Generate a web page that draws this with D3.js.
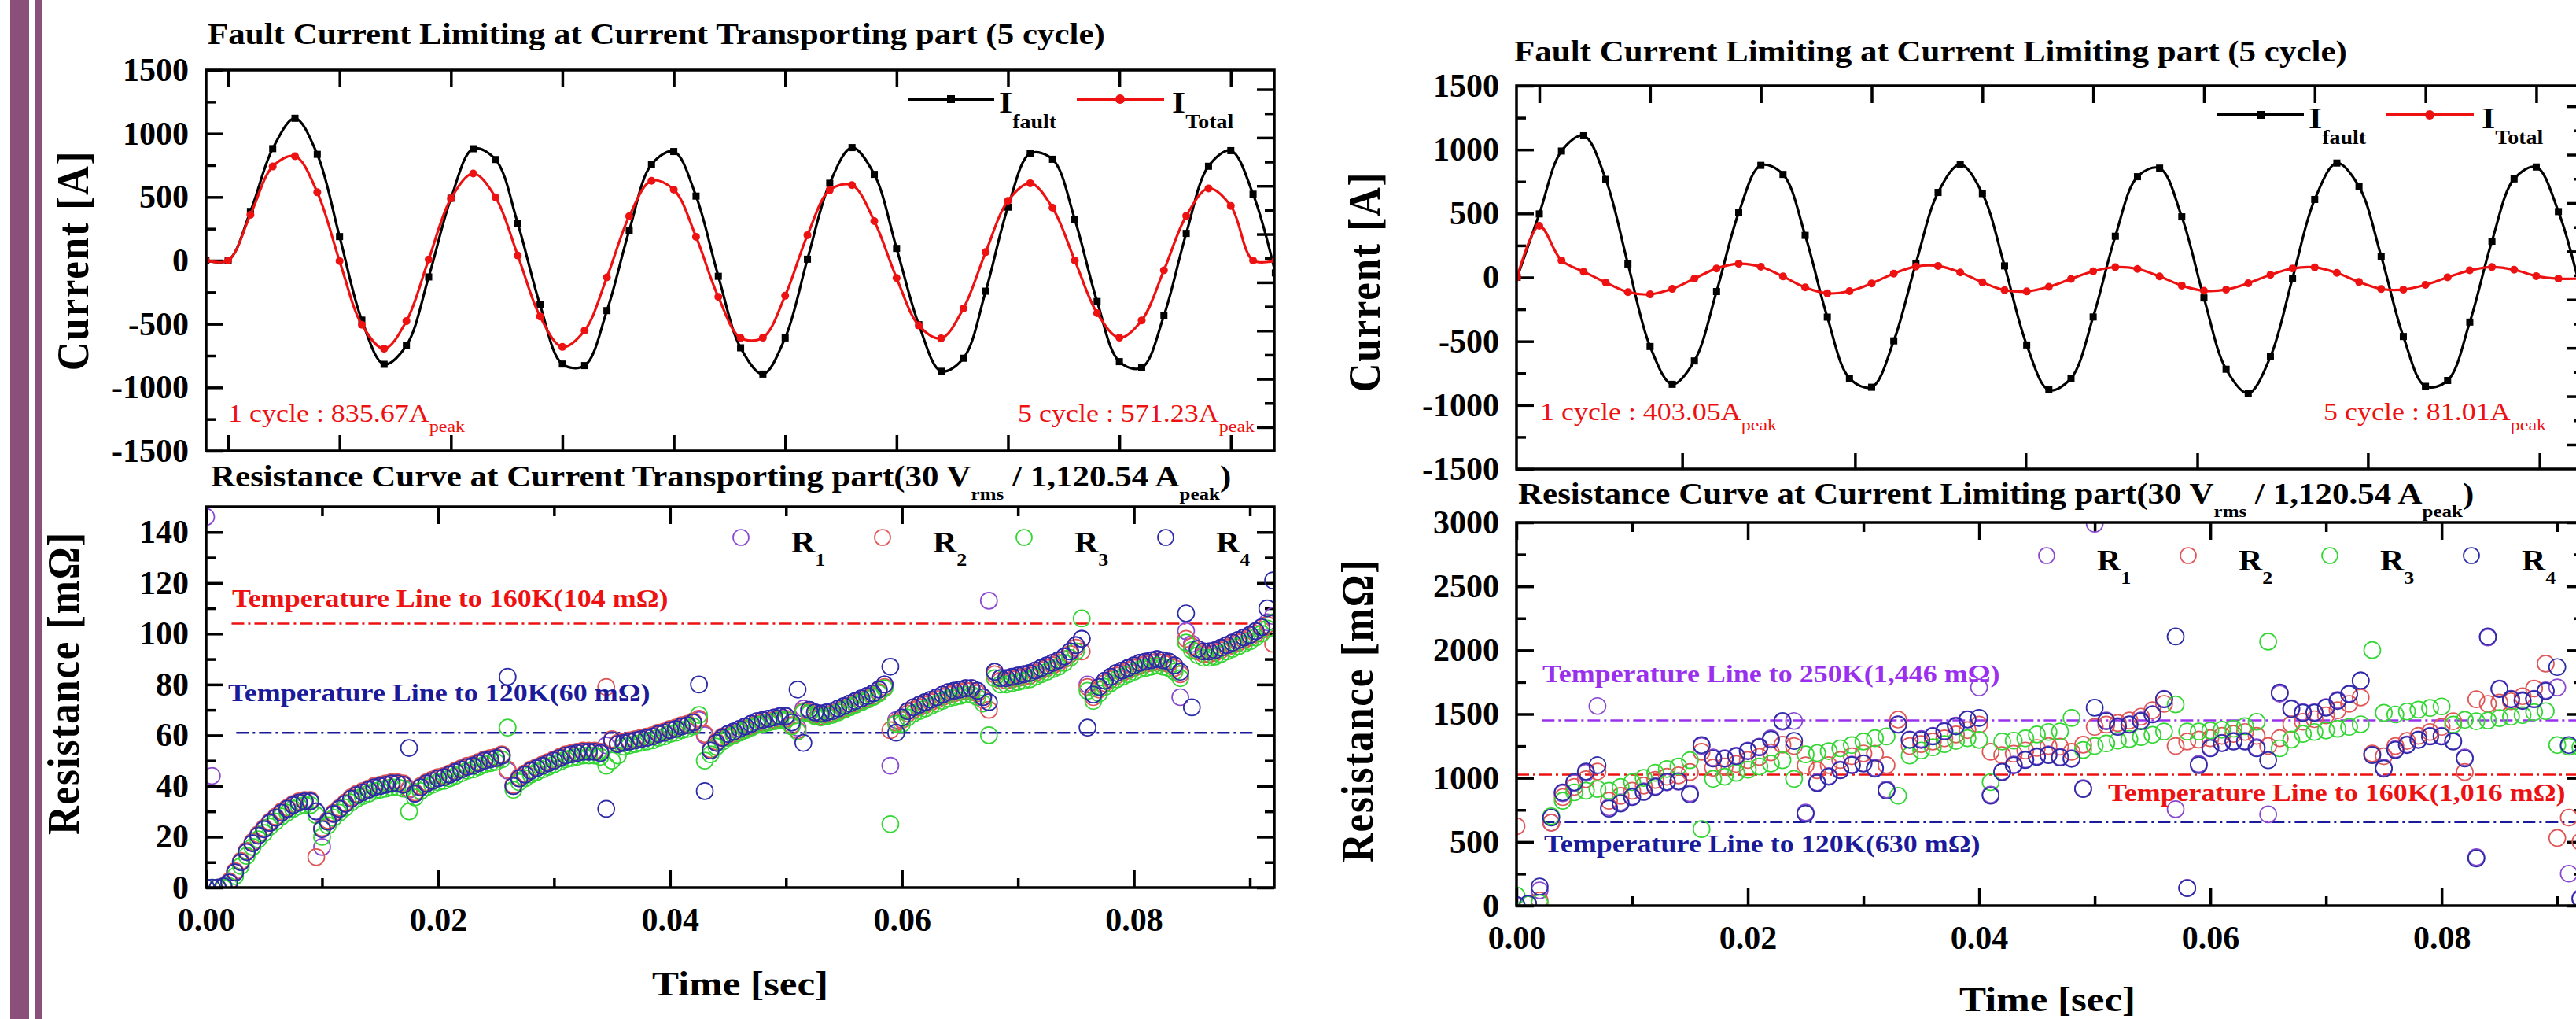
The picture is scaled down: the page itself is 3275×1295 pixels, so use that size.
<!DOCTYPE html>
<html>
<head>
<meta charset="utf-8">
<script src="https://cdn.jsdelivr.net/npm/d3@7/dist/d3.min.js"></script>
<style>
  html, body { margin: 0; padding: 0; background: #ffffff; overflow: hidden; }
  svg { display: block; }
</style>
</head>
<body>
<svg id="chart" width="3275" height="1295" xmlns="http://www.w3.org/2000/svg"></svg>
<script>
// ================= DATA =================
// Current waveforms (time in s), markers every 2 ms
const currentTimes = [-0.002,0,0.002,0.004,0.006,0.008,0.010,0.012,0.014,0.016,0.018,0.020,0.022,0.024,0.026,0.028,0.030,0.032,0.034,0.036,0.038,0.040,0.042,0.044,0.046,0.048,0.050,0.052,0.054,0.056,0.058,0.060,0.062,0.064,0.066,0.068,0.070,0.072,0.074,0.076,0.078,0.080,0.082,0.084,0.086,0.088,0.090,0.092,0.094];
const leftFaultCurrent = [0,0,386,881,1120,836,188,-470,-818,-670,-130,490,880,795,290,-350,-816,-828,-395,235,756,858,507,-125,-688,-895,-610,10,608,889,678,95,-506,-873,-770,-242,420,843,797,323,-323,-797,-845,-434,213,742,865,522,-98];
const leftTotalCurrent = [0,0,360,740,821,537,-4,-506,-695,-478,8,488,685,498,39,-441,-681,-552,-133,348,628,558,186,-287,-610,-608,-278,199,554,593,310,-138,-512,-613,-378,66,470,608,415,0,-415,-608,-472,-77,351,567,430,0,0];
const rightFaultCurrent = [0,497,989,1109,767,105,-541,-837,-654,-111,506,877,806,329,-311,-789,-860,-497,111,665,885,656,90,-529,-881,-790,-310,322,788,855,474,-161,-719,-907,-622,-6,610,895,711,166,-463,-853,-807,-350,283,771,864,515,-97];
const rightTotalCurrent = [0,403,133,45,-40,-115,-133,-90,-10,70,107,83,7,-79,-125,-108,-47,30,85,90,39,-39,-100,-110,-74,-12,48,80,66,7,-64,-105,-96,-46,20,70,79,35,-36,-91,-96,-59,0,55,81,60,10,-10,-10];

// Resistance of current transporting part (mOhm), sampled every 0.5 ms from t = 0
const resLeftStep = 0.0005;
const resLeftR1 = [146,44,0,0.5,2,6,10,14,17.5,20.5,23,25.5,27.5,29.5,31,32.5,33.5,34,34,30,16,26,29,31,33,35,36.5,37.5,38.5,39.5,40,40.5,41,41,40.5,38.5,37,39.5,41,42,43,43.5,44.5,45.5,46.5,47.5,48,49,50,50.5,51,52,46,40,43,44.5,46,47,48,49,50,51,52,52.5,53,53.5,53.5,53.5,53,56,58,56.5,57,57.5,58,58.5,59,59.5,60.5,61,62,62.5,63.5,64,65,66,60,54,57,59,60.5,61.5,62.5,63.5,64.5,65.5,66,66.5,67,67.5,67.5,65,63,70.5,70,69,68.5,69,69.5,70.5,71.5,72.5,73.5,74.5,75.5,76.5,78,80,48,66,67,69.5,71,72,73,74,75,76,77,77.5,78,78.5,78.5,77.5,75,113,85,82.5,82.5,83,83.5,84,84.5,85.5,86.5,87.5,88.5,89.5,91,93,95.5,98,80,76,79,81.5,83,84.5,85.5,86.5,87.5,88.5,89,89.5,90,89.5,89,87.5,75,101,96,94,93,93,93.5,94.5,95.5,96.5,97.5,98.5,99.5,101,102.5,104.5,107];
const resLeftR2 = [0,0,0,0,2.5,6.5,10.5,14.5,18,21,23.5,26,28,30,31.5,33,34,34.5,34.5,12,23.5,26.5,29.5,31.5,33.5,35.5,37,38,39,40,40.5,41,41.5,41.5,41,39,37.5,40,41.5,42.5,43.5,44,45,46,47,48,48.5,49.5,50.5,51,51.5,52.5,46.5,40.5,43.5,45,46.5,47.5,48.5,49.5,50.5,51.5,52.5,53,53.5,54,54,54,53.5,79,58.5,57,57.5,58,58.5,59,59.5,60,61,61.5,62.5,63,64,64.5,65.5,66.5,60.5,54.5,57.5,59.5,59.5,60.5,61.5,62.5,63.5,64.5,65,65.5,66,66.5,66.5,64,62,69.5,69,68,67.5,68,68.5,69.5,70.5,71.5,72.5,73.5,74.5,75.5,77,79,62,65,66,68.5,70,71,72,73,74,75,76,76.5,77,77.5,77.5,76.5,74,70,84,81.5,81.5,82,82.5,83,83.5,84.5,85.5,86.5,87.5,88.5,90,92,94.5,93,79,75,78,80.5,82,83.5,84.5,85.5,86.5,87.5,88,88.5,89,88.5,88,86.5,84,98,95,93,92,92,92.5,93.5,94.5,95.5,96.5,97.5,98.5,100,101.5,103.5,96];
const resLeftR3 = [0,0,0,0,0.5,4.5,8.5,12.5,16,19,21.5,24,26,28,29.5,31,32,32.5,32.5,28.5,20,24.5,27.5,29.5,31.5,33.5,35,36,37,38,38.5,39,39.5,39.5,39,30,35.5,38,39.5,40.5,41.5,42,43,44,45,46,46.5,47.5,48.5,49,49.5,50.5,63,38.5,41.5,43,44.5,45.5,46.5,47.5,48.5,49.5,50.5,51,51.5,52,52,52,51.5,48,50,52,55.5,56,56.5,57,57.5,58,59,59.5,60.5,61,62,62.5,63.5,68,50,52.5,55.5,57.5,59,60,61,62,63,64,64.5,65,65.5,66,66,63.5,61.5,69,68.5,67.5,67,67.5,68,69,70,71,72,73,74,75,76.5,78.5,25,64.5,64.5,67,68.5,69.5,70.5,71.5,72.5,73.5,74.5,75,75.5,76,76,75,72.5,60,82.5,80,80,80.5,81,81.5,82,83,84,85,86,87,88.5,90.5,93,106,77.5,73.5,76.5,79,80.5,82,83,84,85,86,86.5,87,87.5,87,86.5,85,82.5,96.5,93.5,91.5,90.5,90.5,91,92,93,94,95,96,97,98.5,100,102,104.5];
const resLeftR4 = [0,0,0,0.5,2,6,10,14,17.5,20.5,23,25.5,27.5,29.5,31,32.5,33.5,34,34,30,23,26,29,31,33,35,36.5,37.5,38.5,39.5,40,40.5,41,41,40.5,55,37,39.5,41,42,43,43.5,44.5,45.5,46.5,47.5,48,49,50,50.5,51,52,83,40,43,44.5,46,47,48,49,50,51,52,52.5,53,53.5,53.5,53.5,53,31,58,56.5,57,57.5,58,58.5,59,59.5,60.5,61,62,62.5,63.5,64,65,80,38,54,57,59,60.5,61.5,62.5,63.5,64.5,65.5,66,66.5,67,67.5,67.5,65,78,57,70,69,68.5,69,69.5,70.5,71.5,72.5,73.5,74.5,75.5,76.5,78,80,87,61,67,69.5,71,72,73,74,75,76,77,77.5,78,78.5,78.5,77.5,75,73,85,82.5,82.5,83,83.5,84,84.5,85.5,86.5,87.5,88.5,89.5,91,93,95.5,98,63,76,79,81.5,83,84.5,85.5,86.5,87.5,88.5,89,89.5,90,89.5,89,87.5,85,108,71,94,93,93,93.5,94.5,95.5,96.5,97.5,98.5,99.5,101,102.5,110,121];

// Resistance of current limiting part (mOhm), sampled every 1 ms from t = 0
const resRightStep = 0.001;
const resRightR1 = [0,10,120,650,880,960,1040,1563,770,810,855,895,935,965,970,880,1250,1160,1155,1175,1215,1245,1310,1440,1446,730,965,1015,1065,1105,1115,1080,910,1420,1300,1305,1330,1370,1410,1460,1709,870,1050,1105,1145,1170,1185,1165,1155,920,2990,1450,1405,1420,1450,1500,1620,755,140,1110,1240,1275,1290,1290,1240,715,1660,1545,1515,1515,1555,1610,1660,1762,1185,1080,1225,1262,1300,1330,1330,1290,1160,380,2100,1700,1620,1608,1620,1685,1709,251,60];
const resRightR2 = [622,10,40,650,850,930,990,1050,821,860,900,940,985,1010,1020,1046,1205,1080,1090,1110,1140,1165,1200,1260,1250,1099,1060,1100,1140,1170,1192,1190,1100,1457,1250,1265,1285,1310,1340,1375,1417,1205,1179,1190,1215,1235,1250,1245,1205,1260,1400,1417,1430,1450,1480,1530,1580,1250,1285,1300,1311,1330,1345,1360,1330,1250,1311,1420,1440,1460,1490,1530,1580,1630,1192,1170,1250,1290,1330,1360,1400,1444,1046,1616,1580,1590,1600,1640,1700,1895,530,690,500];
const resRightR3 = [80,10,20,700,821,887,900,914,900,930,967,1000,1040,1070,1090,1139,600,993,1010,1040,1065,1090,1112,1139,993,1185,1195,1210,1232,1258,1285,1311,1325,861,1175,1215,1240,1265,1290,1311,1298,967,1285,1292,1310,1340,1360,1364,1470,1219,1250,1270,1292,1305,1320,1338,1364,1576,1364,1364,1372,1378,1386,1405,1440,2067,1232,1300,1345,1360,1372,1385,1400,1420,2001,1510,1497,1520,1535,1548,1560,1417,1455,1444,1450,1468,1480,1492,1515,1523,1258,1245,1240];
const resRightR4 = [5,15,150,690,887,967,1050,1100,760,800,850,890,930,970,975,870,1258,1152,1150,1170,1210,1240,1300,1446,1290,720,960,1010,1060,1100,1112,1073,901,1417,1298,1298,1325,1364,1404,1457,1470,861,1046,1099,1140,1165,1179,1160,1150,914,1550,1444,1400,1417,1444,1497,1616,2107,137,1100,1232,1272,1285,1285,1232,1139,1669,1540,1510,1510,1550,1603,1656,1762,1179,1073,1219,1258,1298,1325,1325,1285,1152,370,2107,1696,1616,1603,1616,1680,1868,1258,52];

// Ticks
const currentMajorTicks = [-1500,-1000,-500,0,500,1000,1500];
const currentMinorTicks = [-1250,-750,-250,250,750,1250];
const currentTimeTicks = [0,0.01,0.02,0.03,0.04,0.05,0.06,0.07,0.08,0.09];
const rightCurrentBottomTicks = [0.0129,0.0285,0.0439,0.0594,0.0748,0.0903];
const auxMajorTicks = [0,2,4,6,8,10,12,14];
const auxMinorTicks = [1,3,5,7,9,11,13];
const resLeftMajorTicks = [0,20,40,60,80,100,120,140];
const resLeftMinorTicks = [10,30,50,70,90,110,130];
const resRightMajorTicks = [0,500,1000,1500,2000,2500,3000];
const resRightMinorTicks = [250,750,1250,1750,2250,2750];
const timeMajorTicks = [0,0.02,0.04,0.06,0.08];
const timeMinorTicks = [0.01,0.03,0.05,0.07,0.09];

// Temperature reference lines
const leftTempValues = [104, 61];
const leftTempLabels = ["Temperature Line to 160K(104 m\u03A9)", "Temperature Line to 120K(60 m\u03A9)"];
const rightTempValues = [1450, 1025, 655];
const rightTempLabels = ["Temperature Line to 250K(1,446 m\u03A9)", "Temperature Line to 160K(1,016 m\u03A9)", "Temperature Line to 120K(630 m\u03A9)"];

const seriesNames = ["1","2","3","4"];

// ================= DRAWING =================
const FONT = "'Liberation Serif','Times New Roman',Times,serif";
const SY = 0.88;
const svg = d3.select("#chart");
svg.append("rect").attr("width",3275).attr("height",1295).attr("fill","#ffffff");
svg.append("rect").attr("x",13).attr("y",0).attr("width",24).attr("height",1295).attr("fill","#8b5079");
svg.append("rect").attr("x",45).attr("y",0).attr("width",8).attr("height",1295).attr("fill","#8b5079");
const defs = svg.append("defs");

function addText(parent, x, y, content, o) {
  const t = parent.append("text")
    .attr("transform", `translate(${x},${y}) scale(1,${SY})` + (o.rotate ? ` rotate(${o.rotate})` : ""))
    .attr("text-anchor", o.anchor || "start")
    .attr("fill", o.color || "#000")
    .style("font-family", FONT)
    .style("font-size", o.size + "px")
    .style("font-weight", o.weight || "bold");
  if (o.spacing) t.style("letter-spacing", o.spacing + "px");
  if (typeof content === "string") { t.text(content); }
  else {
    let cur = 0;
    content.forEach(p => {
      const ts = t.append("tspan").text(p.t);
      const off = p.sub || 0;
      if (off !== cur) { ts.attr("dy", (off - cur) / SY); cur = off; }
      if (p.size) ts.style("font-size", p.size + "px");
      if (p.dx) ts.attr("dx", p.dx);
    });
  }
  return t;
}

function axisG(parent, gen, tx, ty) {
  const a = parent.append("g").attr("transform", `translate(${tx},${ty})`).call(gen);
  a.select(".domain").remove();
  a.selectAll(".tick line").attr("stroke", "#000").attr("stroke-width", 3.5);
  a.selectAll(".tick text").attr("fill", "#000")
    .style("font-family", FONT).style("font-size", "42px").style("font-weight", "bold");
  return a;
}

function frame(g, x, y) {
  const [x0, x1] = x.range(); const [y1, y0] = y.range();
  g.append("rect").attr("x", x0).attr("y", y0).attr("width", x1 - x0).attr("height", y1 - y0)
    .attr("fill", "none").attr("stroke", "#000").attr("stroke-width", 3.5);
}

function clipFor(id, x, y) {
  const [x0, x1] = x.range(); const [y1, y0] = y.range();
  defs.append("clipPath").attr("id", id).append("rect")
    .attr("x", x0).attr("y", y0).attr("width", x1 - x0).attr("height", y1 - y0);
  return `url(#${id})`;
}

function drawCurrentChart(p) {
  const g = svg.append("g");
  const [x0, x1] = p.x.range(); const [y1, y0] = p.y.range();
  const clip = clipFor(p.id, p.x, p.y);
  axisG(g, d3.axisLeft(p.y).tickValues(currentMajorTicks).tickSize(-22).tickPadding(22).tickFormat(d => String(d)), x0, 0);
  axisG(g, d3.axisLeft(p.y).tickValues(currentMinorTicks).tickSize(-12).tickFormat(""), x0, 0);
  axisG(g, d3.axisRight(p.aux).tickValues(auxMajorTicks).tickSize(-22).tickFormat(""), x1, 0);
  axisG(g, d3.axisRight(p.aux).tickValues(auxMinorTicks).tickSize(-12).tickFormat(""), x1, 0);
  axisG(g, d3.axisTop(p.x).tickValues(currentTimeTicks).tickSize(-22).tickFormat(""), 0, y0);
  axisG(g, d3.axisBottom(p.x).tickValues(p.bottomTicks).tickSize(-20).tickFormat(""), 0, y1);

  const dg = g.append("g").attr("clip-path", clip);
  const line = d3.line().x((d, i) => p.x(currentTimes[i])).y(d => p.y(d)).curve(d3.curveCatmullRom.alpha(0.5));
  dg.append("path").datum(p.fault).attr("d", line).attr("fill", "none").attr("stroke", "#000").attr("stroke-width", 3.2);
  dg.selectAll(null).data(p.fault).join("rect")
    .attr("x", (d, i) => p.x(currentTimes[i]) - 4.5).attr("y", d => p.y(d) - 4.5)
    .attr("width", 9).attr("height", 9).attr("fill", "#000");
  dg.append("path").datum(p.total).attr("d", line).attr("fill", "none").attr("stroke", "#ee1111").attr("stroke-width", 3.2);
  dg.selectAll(null).data(p.total).join("circle")
    .attr("cx", (d, i) => p.x(currentTimes[i])).attr("cy", d => p.y(d)).attr("r", 5).attr("fill", "#ee1111");
  frame(g, p.x, p.y);

  // legend
  const lx = x1 - 466, ly = y0 + 37;
  g.append("line").attr("x1", lx).attr("x2", lx + 110).attr("y1", ly).attr("y2", ly).attr("stroke", "#000").attr("stroke-width", 4);
  g.append("rect").attr("x", lx + 55 - 5).attr("y", ly - 5).attr("width", 10).attr("height", 10).attr("fill", "#000");
  addText(g, lx + 116, ly + 17, [{t: "I"}, {t: "fault", sub: 20, size: 28}], {size: 44});
  const rx = lx + 215;
  g.append("line").attr("x1", rx).attr("x2", rx + 111).attr("y1", ly).attr("y2", ly).attr("stroke", "#ee1111").attr("stroke-width", 4);
  g.append("circle").attr("cx", rx + 55).attr("cy", ly).attr("r", 6).attr("fill", "#ee1111");
  addText(g, rx + 121, ly + 17, [{t: "I"}, {t: "Total", sub: 20, size: 28}], {size: 44});

  // peak annotations
  addText(g, p.ann1[0], p.ann1[1], [{t: p.ann1[2]}, {t: "peak", sub: 13, size: 24}], {size: 36, weight: "normal", color: "#ee1111"});
  addText(g, p.ann2[0], p.ann2[1], [{t: p.ann2[2]}, {t: "peak", sub: 13, size: 24}], {size: 36, weight: "normal", color: "#ee1111"});
}

const seriesColors = ["#8a48d0", "#e05555", "#33d633", "#2b2ba8"];

function drawResChart(p) {
  const g = svg.append("g");
  const [x0, x1] = p.x.range(); const [y1, y0] = p.y.range();
  const clip = clipFor(p.id, p.x, p.y);
  axisG(g, d3.axisLeft(p.y).tickValues(p.major).tickSize(-22).tickPadding(22).tickFormat(d => String(d)), x0, 0);
  axisG(g, d3.axisLeft(p.y).tickValues(p.minor).tickSize(-12).tickFormat(""), x0, 0);
  axisG(g, d3.axisRight(p.y).tickValues(p.major).tickSize(-22).tickFormat(""), x1, 0);
  axisG(g, d3.axisRight(p.y).tickValues(p.minor).tickSize(-12).tickFormat(""), x1, 0);
  axisG(g, d3.axisTop(p.x).tickValues(timeMajorTicks).tickSize(-22).tickFormat(""), 0, y0);
  axisG(g, d3.axisTop(p.x).tickValues(timeMinorTicks).tickSize(-12).tickFormat(""), 0, y0);
  axisG(g, d3.axisBottom(p.x).tickValues(timeMajorTicks).tickSize(-22).tickPadding(25).tickFormat(d3.format(".2f")), 0, y1);
  axisG(g, d3.axisBottom(p.x).tickValues(timeMinorTicks).tickSize(-12).tickFormat(""), 0, y1);

  // temperature lines
  const tg = g.append("g").attr("clip-path", clip);
  p.temps.forEach(tl => {
    tg.append("line").attr("x1", p.x(tl.t0)).attr("x2", p.x(tl.t1)).attr("y1", p.y(tl.v)).attr("y2", p.y(tl.v))
      .attr("stroke", tl.color).attr("stroke-width", 2.5).attr("stroke-dasharray", "16,5,3,5");
  });

  const dg = g.append("g").attr("clip-path", clip);
  p.series.forEach((arr, si) => {
    dg.selectAll(null).data(arr).join("circle")
      .attr("cx", (d, i) => p.x(i * p.step)).attr("cy", d => p.y(d)).attr("r", 10.5)
      .attr("fill", "none").attr("stroke", seriesColors[si]).attr("stroke-width", 1.7);
  });
  frame(g, p.x, p.y);

  p.temps.forEach(tl => {
    addText(g, tl.lx, tl.ly, tl.label, {size: 36, color: tl.color});
  });

  // legend
  seriesNames.forEach((nm, k) => {
    const cx = p.legX + k * 180;
    g.append("circle").attr("cx", cx).attr("cy", p.legY).attr("r", 10).attr("fill", "none")
      .attr("stroke", seriesColors[k]).attr("stroke-width", 1.7);
    addText(g, cx + 64, p.legY + 19, [{t: "R"}, {t: nm, sub: 17, size: 26}], {size: 42});
  });
}

// ---------- Scales ----------
const xTL = d3.scaleLinear().domain([-0.00198, 0.0939]).range([262, 1620]);
const yTL = d3.scaleLinear().domain([-1500, 1500]).range([573, 89]);
const auxTL = d3.scaleLinear().domain([-0.98, 14.8]).range([573, 89]);
const xTR = d3.scaleLinear().domain([-0.00206, 0.0943]).range([1928, 3285]);
const yTR = d3.scaleLinear().domain([-1500, 1500]).range([596, 109]);
const auxTR = d3.scaleLinear().domain([-1.01, 14.85]).range([596, 109]);
const xBL = d3.scaleLinear().domain([0, 0.0921]).range([262, 1620]);
const yBL = d3.scaleLinear().domain([0, 150]).range([1128, 644]);
const xBR = d3.scaleLinear().domain([0, 0.0923]).range([1928, 3285]);
const yBR = d3.scaleLinear().domain([0, 3000]).range([1151, 664]);

// ---------- Left panel ----------
const gL = svg.append("g");
addText(gL, 264, 56, "Fault Current Limiting at Current Transporting part (5 cycle)", {size: 43});
drawCurrentChart({id: "clipTL", x: xTL, y: yTL, aux: auxTL, bottomTicks: currentTimeTicks,
  fault: leftFaultCurrent, total: leftTotalCurrent,
  ann1: [290, 536, "1 cycle : 835.67A"], ann2: [1294, 536, "5 cycle : 571.23A"]});
addText(gL, 268, 618, [{t: "Resistance Curve at Current Transporting part(30 V"}, {t: "rms", sub: 17, size: 25},
  {t: " / 1,120.54 A"}, {t: "peak", sub: 17, size: 25}, {t: ")"}], {size: 43});
drawResChart({id: "clipBL", x: xBL, y: yBL, major: resLeftMajorTicks, minor: resLeftMinorTicks,
  step: resLeftStep, series: [resLeftR1, resLeftR2, resLeftR3, resLeftR4],
  legX: 942, legY: 683,
  temps: [
    {v: leftTempValues[0], t0: 0.0022, t1: 0.0900, color: "#ee1111", label: leftTempLabels[0], lx: 295, ly: 771},
    {v: leftTempValues[1], t0: 0.0026, t1: 0.0903, color: "#1a1a9a", label: leftTempLabels[1], lx: 290, ly: 891}
  ]});
addText(gL, 112, 331, "Current [A]", {size: 58, rotate: -90, anchor: "middle", spacing: 2});
addText(gL, 100, 868, "Resistance [m\u03A9]", {size: 58, rotate: -90, anchor: "middle", spacing: 2});
addText(gL, 941, 1265, "Time [sec]", {size: 51, anchor: "middle"});

// ---------- Right panel ----------
const gR = svg.append("g");
addText(gR, 1925, 78, "Fault Current Limiting at Current Limiting part (5 cycle)", {size: 43});
drawCurrentChart({id: "clipTR", x: xTR, y: yTR, aux: auxTR, bottomTicks: rightCurrentBottomTicks,
  fault: rightFaultCurrent, total: rightTotalCurrent,
  ann1: [1958, 534, "1 cycle : 403.05A"], ann2: [2954, 534, "5 cycle : 81.01A"]});
addText(gR, 1930, 640, [{t: "Resistance Curve at Current Limiting part(30 V"}, {t: "rms", sub: 17, size: 25},
  {t: " / 1,120.54 A"}, {t: "peak", sub: 17, size: 25}, {t: ")"}], {size: 43});
drawResChart({id: "clipBR", x: xBR, y: yBR, major: resRightMajorTicks, minor: resRightMinorTicks,
  step: resRightStep, series: [resRightR1, resRightR2, resRightR3, resRightR4],
  legX: 2602, legY: 706,
  temps: [
    {v: rightTempValues[0], t0: 0.0022, t1: 0.0923, color: "#9a30ee", label: rightTempLabels[0], lx: 1961, ly: 867},
    {v: rightTempValues[1], t0: 0, t1: 0.0923, color: "#ee1111", label: rightTempLabels[1], lx: 2680, ly: 1018},
    {v: rightTempValues[2], t0: 0.0022, t1: 0.0923, color: "#1a1a9a", label: rightTempLabels[2], lx: 1963, ly: 1083}
  ]});
addText(gR, 1754, 358, "Current [A]", {size: 58, rotate: -90, anchor: "middle", spacing: 2});
addText(gR, 1745, 903, "Resistance [m\u03A9]", {size: 58, rotate: -90, anchor: "middle", spacing: 2});
addText(gR, 2603, 1285, "Time [sec]", {size: 51, anchor: "middle"});
</script>
</body>
</html>
